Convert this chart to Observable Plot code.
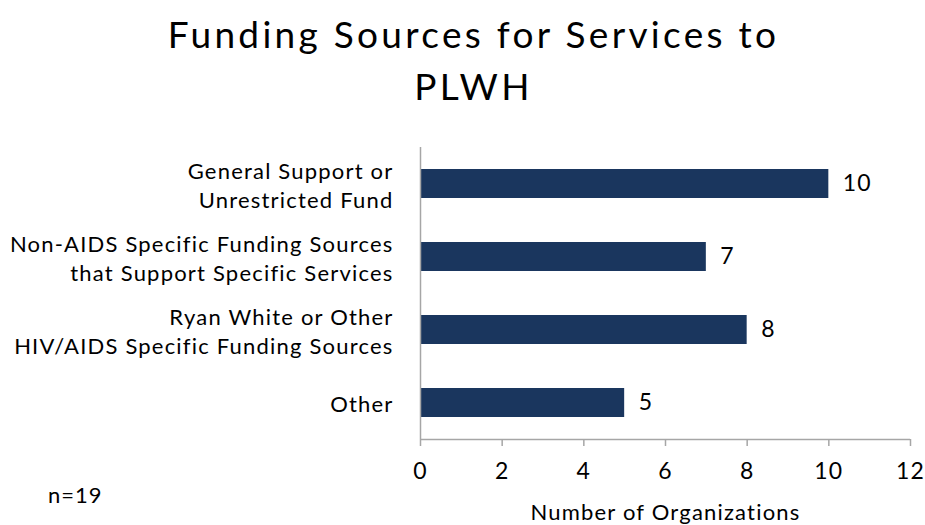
<!DOCTYPE html>
<html>
<head>
<meta charset="utf-8">
<script src="https://cdn.jsdelivr.net/npm/d3@7"></script>
<script src="https://cdn.jsdelivr.net/npm/@observablehq/plot@0.6"></script>
<style>
  body { margin: 0; background: #fff; }
  #wrap { position: relative; width: 925px; height: 525px; font-family: Lato, "Open Sans", sans-serif; color: #000; }
  #title { height: 130px; width: 925px; box-sizing: border-box; padding-left: 22px; padding-top: 8px; text-align: center; font-size: 37px; line-height: 52px; letter-spacing: 3.3px; }
  #note { position: absolute; left: 48px; top: 481px; font-size: 22px; letter-spacing: 1px; }
</style>
</head>
<body>
<div id="wrap">
  <div id="title">Funding Sources for Services to<br>PLWH</div>
  <div id="chart"></div>
  <div id="note">n=19</div>
</div>
<script>
const categories = [
  "General Support or\nUnrestricted Fund",
  "Non-AIDS Specific Funding Sources\nthat Support Specific Services",
  "Ryan White or Other\nHIV/AIDS Specific Funding Sources",
  "Other"
];
const counts = [10, 7, 8, 5];
const xTicks = [0, 2, 4, 6, 8, 10, 12];
const xLabel = "Number of Organizations";

const data = categories.map((c, i) => ({category: c, count: counts[i]}));
const axisGray = "#a6a6a6";

const H = 395, MT = 17, MB = 86;
const chart = Plot.plot({
  width: 925,
  height: H,
  marginTop: MT,
  marginBottom: MB,
  marginLeft: 420,
  marginRight: 15,
  style: {fontFamily: "Lato, 'Open Sans', sans-serif", color: "#000", background: "#fff", letterSpacing: "1.2px"},
  x: {domain: [0, 12]},
  y: {domain: categories, paddingInner: 0.6, paddingOuter: 0.3},
  marks: [
    Plot.barX(data, {x: "count", y: "category", fill: "#1a365e"}),
    Plot.text(data, {x: "count", y: "category", text: d => String(d.count), dx: 14, textAnchor: "start", fontSize: 23, fill: "#000"}),
    Plot.ruleX([0], {stroke: axisGray, strokeWidth: 1.5}),
    Plot.ruleY([null], {y: null, x1: 0, x2: 12, dy: (H - MB - MT) / 2, stroke: axisGray, strokeWidth: 1.5}),
    Plot.axisX({ticks: xTicks, tickSize: 7, tickPadding: 16, fontSize: 23, stroke: axisGray, strokeWidth: 1.5, label: null}),
    Plot.axisY({tickSize: 0, tickPadding: 27, fontSize: 22, lineHeight: 1.32, label: null}),
    Plot.text([xLabel], {x: 6, frameAnchor: "bottom", lineAnchor: "middle", dy: 73, text: d => d, fontSize: 22, fill: "#000"})
  ]
});
document.getElementById("chart").appendChild(chart);
</script>
</body>
</html>
